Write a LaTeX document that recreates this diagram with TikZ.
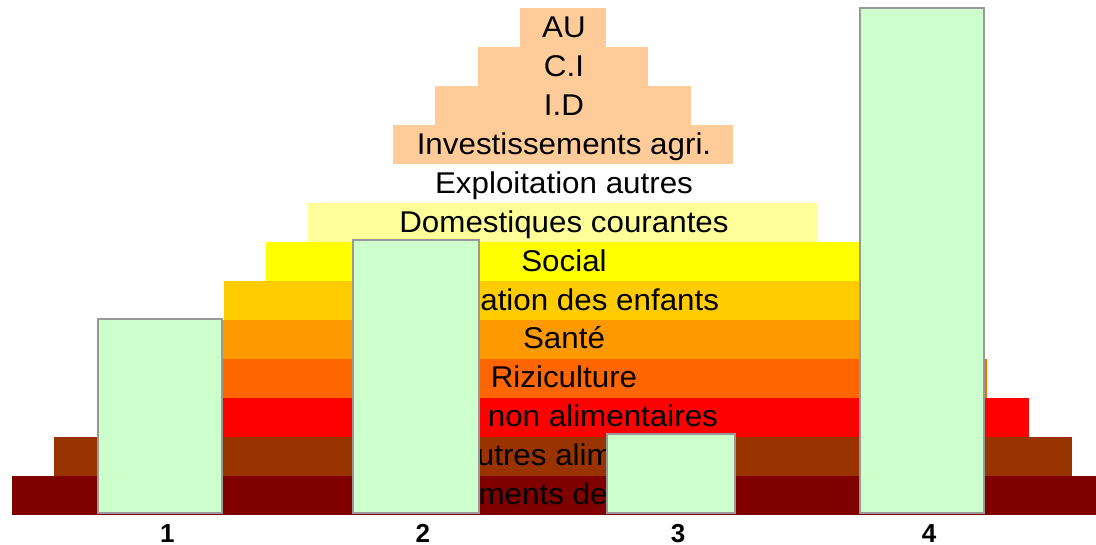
\documentclass[tikz,border=0pt]{standalone}
\usepackage{fontspec}
\setmainfont{Liberation Sans}
\newfontfamily\labfont[FakeStretch=1.045]{Liberation Sans}
\definecolor{cBase}{HTML}{800000}
\definecolor{cAutres}{HTML}{993300}
\definecolor{cNonAl}{HTML}{FF0000}
\definecolor{cRiz}{HTML}{FF6600}
\definecolor{cSante}{HTML}{FF9900}
\definecolor{cEduc}{HTML}{FFCC00}
\definecolor{cSocial}{HTML}{FFFF00}
\definecolor{cDom}{HTML}{FFFF99}
\definecolor{cPeach}{HTML}{FFCC99}
\definecolor{barfill}{HTML}{CCFFCC}
\definecolor{barline}{HTML}{999999}
\begin{document}
\begin{tikzpicture}[x=1pt,y=-1pt,
  layerbox/.style={draw=none, inner sep=0pt, outer sep=0pt, minimum height=39.3pt, anchor=north},
  laytext/.style={anchor=base, inner sep=0pt, outer sep=0pt, font=\labfont\fontsize{30}{36}\selectfont},
  barbox/.style={draw=barline, fill=barfill, line width=2pt, inner sep=0pt, outer sep=0pt, anchor=south},
  numtext/.style={anchor=base, inner sep=0pt, font=\bfseries\fontsize{26}{30}\selectfont}]
\useasboundingbox (0,0) rectangle (1096,545);
% layers of the pyramid, from bottom (1) to top (13)
\foreach \k/\hw/\col/\txt in {
  1/551.05/cBase/Aliments de base,
  2/508.7/cAutres/Autres aliments,
  3/466.35/cNonAl/Dép. non alimentaires,
  4/424/cRiz/Riziculture,
  5/381.65/cSante/Santé,
  6/339.3/cEduc/Education des enfants,
  7/296.95/cSocial/Social,
  8/254.6/cDom/Domestiques courantes,
  9/212.25/none/Exploitation autres,
  10/169.9/cPeach/Investissements agri.,
  11/127.55/cPeach/I.D,
  12/85.2/cPeach/C.I,
  13/42.85/cPeach/AU}{
  \pgfmathsetmacro\rowtop{8+(13-\k)*38.96}
  \pgfmathsetmacro\rowbase{\rowtop+29.3}
  \pgfmathsetmacro\layw{2*\hw}
  \node[layerbox, fill=\col, minimum width=\layw pt] (L\k) at (563,\rowtop) {};
  \node[laytext] (T\k) at (564,\rowbase) {\txt};
}
% bars
\node[barbox, minimum width=124pt, minimum height=194.3pt] (B1) at (160.3,513) {};
\node[barbox, minimum width=125.5pt, minimum height=273.3pt] (B2) at (415.75,513) {};
\node[barbox, minimum width=128pt, minimum height=79.3pt] (B3) at (671,513) {};
\node[barbox, minimum width=123.7pt, minimum height=505.3pt] (B4) at (922.15,513) {};
% numbers
\node[numtext] (N1) at (167.3,542.3) {1};
\node[numtext] (N2) at (422.8,542.3) {2};
\node[numtext] (N3) at (678,542.3) {3};
\node[numtext] (N4) at (929,542.3) {4};
\end{tikzpicture}
\end{document}
